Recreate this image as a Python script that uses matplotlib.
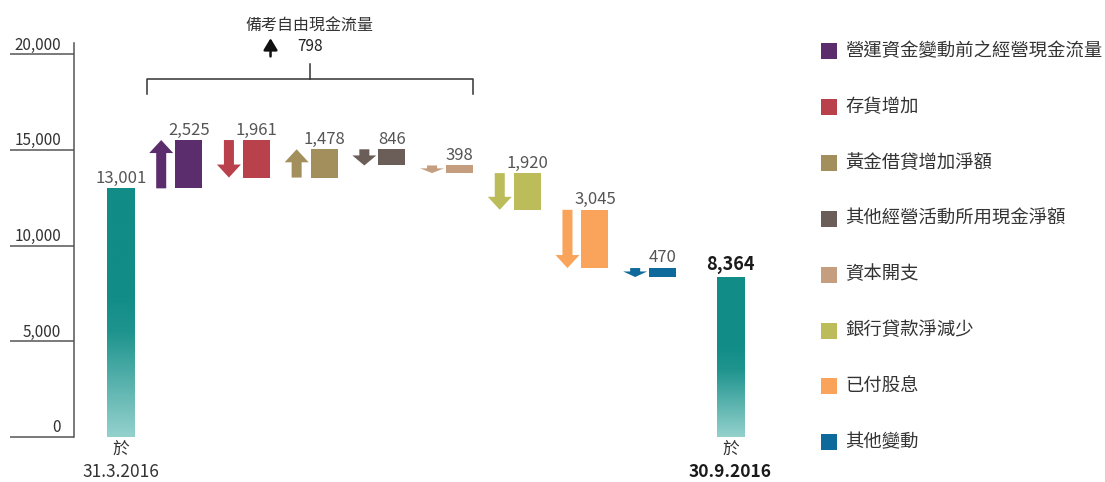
import matplotlib
matplotlib.use("Agg")
import matplotlib.pyplot as plt
import numpy as np
from matplotlib.colors import LinearSegmentedColormap
from matplotlib.patches import Polygon, Rectangle
import matplotlib.transforms as mtransforms

plt.rcParams['font.family'] = ['Noto Sans CJK TC', 'DejaVu Sans']

# ---------------- data ----------------
start_value = 13001
end_value = 8364
start_label = ["於", "31.3.2016"]
end_label = ["於", "30.9.2016"]
step_labels = ["營運資金變動前之經營現金流量", "存貨增加", "黃金借貸增加淨額",
               "其他經營活動所用現金淨額", "資本開支", "銀行貸款淨減少",
               "已付股息", "其他變動"]
step_values = [2525, -1961, 1478, -846, -398, -1920, -3045, -470]
step_colors = ["#5c2d6c", "#b8414c", "#a28f5c", "#6b5d57",
               "#c49e7e", "#bcbd5a", "#f9a35b", "#0f6a9c"]
yticks = [0, 5000, 10000, 15000, 20000]
fcf_title = "備考自由現金流量"
fcf_value = 798
fcf_range = (1, 5)  # steps covered by the bracket (indices of bars)

# ---------------- figure ----------------
W, H = 1105, 482
fig = plt.figure(figsize=(W / 100, H / 100), dpi=100)
ax_left, ax_right = 74, 771
ax_top, ax_bottom = 43, 437
ax = fig.add_axes([ax_left / W, (H - ax_bottom) / H,
                   (ax_right - ax_left) / W, (ax_bottom - ax_top) / H])
ax.set_xlim(-0.694, 9.6)
ax.set_ylim(0, 20600)

teal_cmap = LinearSegmentedColormap.from_list(
    "teal", [(0.0, "#94d1cd"), (0.18, "#62b7b2"), (0.42, "#1f948e"),
             (0.58, "#118c87"), (1.0, "#118c87")])

bar_w = 0.40
arrow_off = -0.406
head_hw = 0.177
shaft_hw = 0.074
head_len_max = 680

grad = np.linspace(0, 1, 256).reshape(-1, 1)


def gradient_bar(x, val):
    ax.imshow(grad, extent=[x - bar_w / 2, x + bar_w / 2, 0, val],
              origin="lower", cmap=teal_cmap, aspect="auto", zorder=2)


n = len(step_values)
xs = np.arange(n + 2)

# start bar
gradient_bar(xs[0], start_value)
ax.annotate(f"{start_value:,}", (xs[0], start_value), xytext=(0, 4),
            textcoords="offset points", ha="center", va="baseline",
            fontsize=12, color="#555555")

level = start_value
for i, (v, c) in enumerate(zip(step_values, step_colors)):
    x = xs[i + 1]
    lo, hi = min(level, level + v), max(level, level + v)
    ax.bar(x, hi - lo, bottom=lo, width=bar_w, color=c, zorder=2)
    cx = x + arrow_off
    hl = min(head_len_max, 0.62 * (hi - lo))
    if v > 0:
        pts = [(cx - shaft_hw, lo), (cx + shaft_hw, lo), (cx + shaft_hw, hi - hl),
               (cx + head_hw, hi - hl), (cx, hi), (cx - head_hw, hi - hl),
               (cx - shaft_hw, hi - hl)]
    else:
        pts = [(cx - shaft_hw, hi), (cx + shaft_hw, hi), (cx + shaft_hw, lo + hl),
               (cx + head_hw, lo + hl), (cx, lo), (cx - head_hw, lo + hl),
               (cx - shaft_hw, lo + hl)]
    ax.add_patch(Polygon(pts, closed=True, facecolor=c, edgecolor="none", zorder=2))
    ax.annotate(f"{abs(v):,}", (x, hi), xytext=(0, 4), textcoords="offset points",
                ha="center", va="baseline", fontsize=12, color="#555555")
    level += v

# end bar
gradient_bar(xs[-1], end_value)
ax.annotate(f"{end_value:,}", (xs[-1], end_value), xytext=(0, 5.5),
            textcoords="offset points", ha="center", va="baseline",
            fontsize=13, color="#1a1a1a", fontweight="bold")

# bottom labels
for x, lab, bold in [(xs[0], start_label, False), (xs[-1], end_label, True)]:
    fw = "bold" if bold else "normal"
    ax.annotate(lab[0], (x, 0), xytext=(0, -9), textcoords="offset points",
                ha="center", va="center", fontsize=12, color="#333333",
                annotation_clip=False)
    ax.annotate(lab[1], (x, 0), xytext=(0, -25.5), textcoords="offset points",
                ha="center", va="center", fontsize=12.5,
                color="#1a1a1a" if bold else "#333333",
                fontweight=fw, annotation_clip=False)

# axes styling
for s in ["top", "right", "bottom"]:
    ax.spines[s].set_visible(False)
ax.spines["left"].set_color("#555555")
ax.spines["left"].set_linewidth(1.1)
ax.set_xticks([])
ax.set_yticks(yticks)
ax.set_yticklabels([])
ax.tick_params(axis="y", direction="out", length=46, width=1.1, color="#555555")
ytrans = mtransforms.blended_transform_factory(ax.transAxes, ax.transData)
for t in yticks:
    ax.annotate(f"{t:,}", (-0.0187, t), xycoords=ytrans, xytext=(0, 3.5),
                textcoords="offset points", ha="right", va="baseline",
                fontsize=11, color="#333333", annotation_clip=False)

# free cash flow bracket
bx0 = xs[fcf_range[0]] + arrow_off - head_hw - 0.04
bx1 = xs[fcf_range[1]] + bar_w / 2
by = 18700
bmid = (bx0 + bx1) / 2
ax.plot([bx0, bx0, bx1, bx1], [17920, by, by, 17920], color="#333333", lw=1.1,
        clip_on=False, zorder=3)
ax.plot([bmid, bmid], [by, 19480], color="#333333", lw=1.1, clip_on=False, zorder=3)
ax.text(bmid, 21500, fcf_title, ha="center", va="center", fontsize=11.5,
        color="#333333", clip_on=False)
ax.text(bmid, 20410, f"{fcf_value}", ha="center", va="center", fontsize=11,
        color="#222222", clip_on=False)
ax.annotate("", xy=(bmid - 0.58, 20850), xytext=(bmid - 0.58, 19900),
            arrowprops=dict(arrowstyle="-|>,head_length=0.7,head_width=0.42",
                            color="#111111", lw=1.8, shrinkA=0, shrinkB=0),
            annotation_clip=False)

# legend
leg_x = 821
row0 = 51
row_gap = 55.9
sq = 16
for i, (lab, c) in enumerate(zip(step_labels, step_colors)):
    yc = row0 + i * row_gap
    fig.patches.append(Rectangle((leg_x / W, (H - yc - sq / 2) / H), sq / W, sq / H,
                                 transform=fig.transFigure, facecolor=c,
                                 edgecolor="none"))
    fig.text((leg_x + 24) / W, (H - yc) / H, lab, ha="left", va="center",
             fontsize=13.2, color="#333333")

fig.savefig("out.png", dpi=100)
